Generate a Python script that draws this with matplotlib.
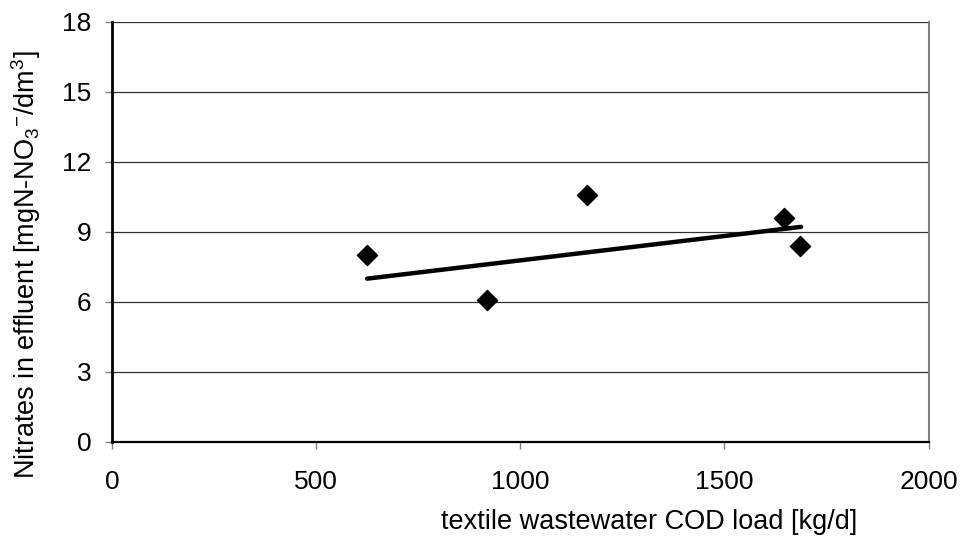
import numpy as np
import matplotlib
matplotlib.use("Agg")
import matplotlib.pyplot as plt

plt.rcParams['font.family'] = ['Liberation Sans', 'DejaVu Sans']
plt.rcParams['mathtext.fontset'] = 'custom'
plt.rcParams['mathtext.rm'] = 'Liberation Sans'
plt.rcParams['mathtext.it'] = 'Liberation Sans'

# measured points
cod_load = [624, 918, 1163, 1645, 1686]
nitrates = [8.0, 6.07, 10.6, 9.59, 8.4]

# trend line ends
trend_x = [625, 1688]
trend_y = [7.0, 9.22]

xticks = [0, 500, 1000, 1500, 2000]
yticks = [0, 3, 6, 9, 12, 15, 18]

fig = plt.figure(figsize=(9.63, 5.36), dpi=100)
ax = fig.add_axes([0.1163, 0.1754, 0.8479, 0.7836])

for t in yticks[1:]:
    ax.axhline(t, color='#303030', lw=0.9, zorder=1)

ax.plot(trend_x, trend_y, color='black', lw=3.2, solid_capstyle='round', zorder=3)
ax.scatter(cod_load, nitrates, marker='D', s=105, color='black', zorder=4)

ax.set_xlim(0, 2000)
ax.set_ylim(0, 18)
ax.set_xticks(xticks)
ax.set_yticks(yticks)
ax.tick_params(direction='out', length=5, width=1, color='#808080',
               labelsize=19, pad=10)
ax.tick_params(axis='x', pad=15)

ax.spines['left'].set_linewidth(2)
ax.spines['left'].set_color('black')
ax.spines['bottom'].set_linewidth(1.6)
ax.spines['bottom'].set_color('black')
ax.spines['top'].set_visible(False)
ax.spines['right'].set_color('#808080')
ax.spines['right'].set_linewidth(1.5)

ax.set_xlabel('textile wastewater COD load [kg/d]', fontsize=19.5)
ax.xaxis.set_label_coords(0.658, -0.16)
ax.set_ylabel(r'Nitrates in effluent [mgN-NO$_3$$^{\mathregular{-}}$/dm$^3$]', fontsize=19.5)
ax.yaxis.set_label_coords(-0.085, 0.4226)

fig.savefig('out.png', dpi=100)
